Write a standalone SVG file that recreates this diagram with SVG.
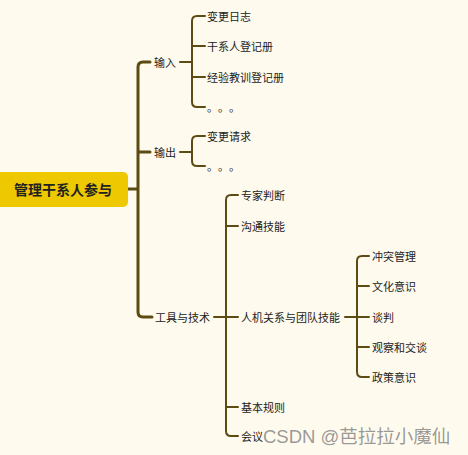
<svg xmlns="http://www.w3.org/2000/svg" width="468" height="455" viewBox="0 0 468 455">
<style>
.t{font-family:"Noto Sans CJK SC","Noto Sans",sans-serif;font-size:11px;fill:#222;dominant-baseline:central}
.r{font-family:"Noto Sans CJK SC","Noto Sans",sans-serif;font-size:14px;font-weight:bold;fill:#222;dominant-baseline:central;text-anchor:middle}
.c{fill:none;stroke:#5c4b12;stroke-width:2;stroke-linecap:round;stroke-linejoin:round}
.m{stroke-width:3}
</style>
<rect width="468" height="455" fill="#fefaed"/>
<g id="connectors">
<path class="c m" d="M128,189 H138 M150,62 H143 Q138,62 138,67 V312 Q138,317 143,317 H152 M138,152 H150"/>
<path class="c" d="M180,62 H192 M205,16 H197 Q192,16 192,21 V102 Q192,107 197,107 H205 M192,46 H205 M192,77 H205"/>
<path class="c" d="M180,152 H192 M205,136 H197 Q192,136 192,141 V161 Q192,166 197,166 H205"/>
<path class="c" d="M214,317 H238 M238,195 H231 Q226,195 226,200 V431 Q226,436 231,436 H238 M226,226 H238 M226,407 H238"/>
<path class="c" d="M345,317 H369 M369,256 H362 Q357,256 357,261 V372 Q357,377 362,377 H369 M357,286 H369 M357,347 H369"/>
</g>
<g id="root"><rect x="-4" y="172" width="132" height="35" rx="5" fill="#eec800"/><text class="r" x="63" y="189">管理干系人参与</text></g>
<g id="input"><text class="t" x="154" y="62">输入</text></g>
<g id="output"><text class="t" x="154" y="152">输出</text></g>
<g id="tools"><text class="t" x="155" y="317">工具与技术</text></g>
<g id="n1"><text class="t" x="207" y="16">变更日志</text></g>
<g id="n2"><text class="t" x="207" y="46">干系人登记册</text></g>
<g id="n3"><text class="t" x="207" y="77">经验教训登记册</text></g>
<g id="n4"><text class="t" x="207 218 229" y="107">。。。</text></g>
<g id="n5"><text class="t" x="207" y="136">变更请求</text></g>
<g id="n6"><text class="t" x="207 218 229" y="166">。。。</text></g>
<g id="n7"><text class="t" x="241" y="195">专家判断</text></g>
<g id="n8"><text class="t" x="241" y="226">沟通技能</text></g>
<g id="n9"><text class="t" x="241" y="317">人机关系与团队技能</text></g>
<g id="n10"><text class="t" x="241" y="407">基本规则</text></g>
<g id="n11"><text class="t" x="241" y="436">会议</text></g>
<g id="n12"><text class="t" x="372" y="256">冲突管理</text></g>
<g id="n13"><text class="t" x="372" y="286">文化意识</text></g>
<g id="n14"><text class="t" x="372" y="317">谈判</text></g>
<g id="n15"><text class="t" x="372" y="347">观察和交谈</text></g>
<g id="n16"><text class="t" x="372" y="377">政策意识</text></g>
<text x="263" y="443" font-family="'Liberation Sans','Noto Sans CJK SC',sans-serif" font-size="18.5" fill="#888" fill-opacity="0.85">CSDN @芭拉拉小魔仙</text>
</svg>
